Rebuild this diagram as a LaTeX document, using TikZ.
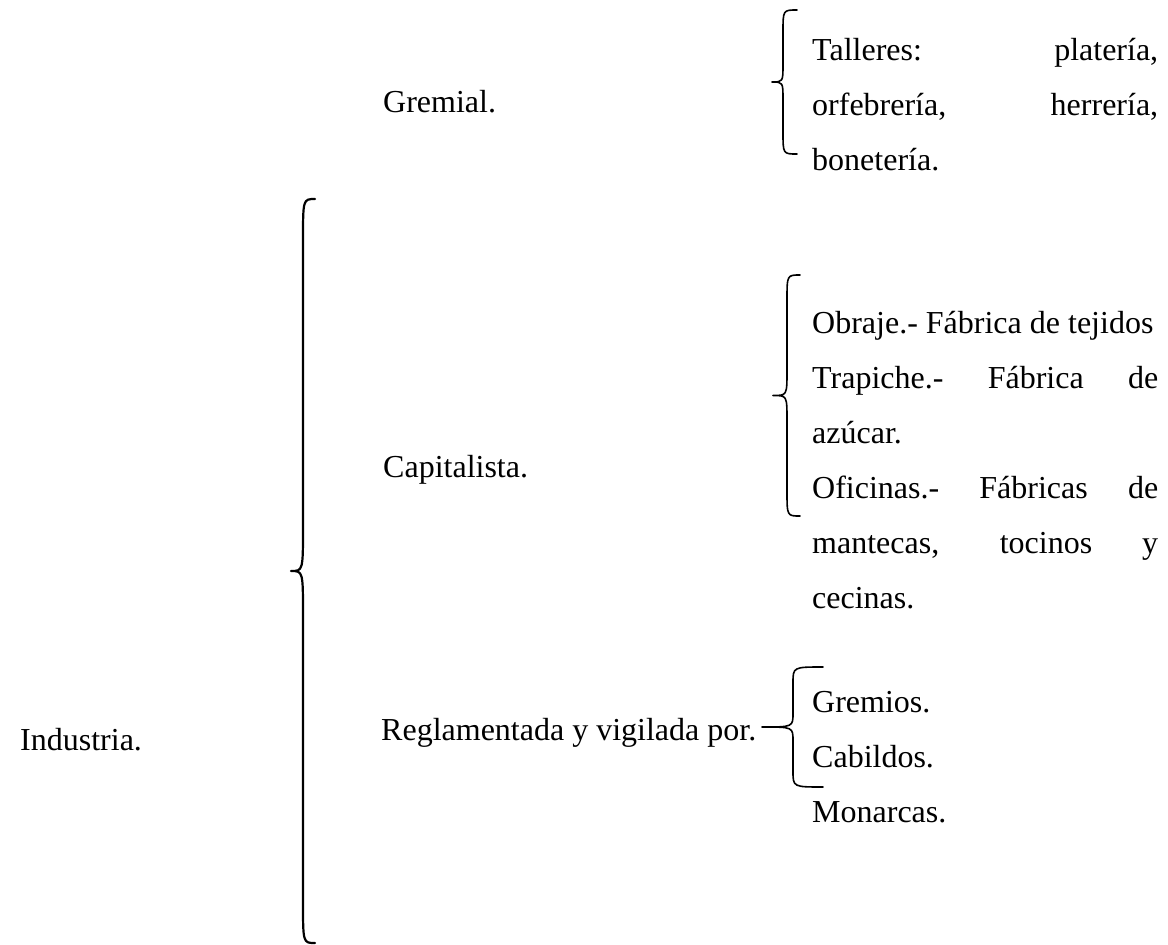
\documentclass[tikz,border=0pt]{standalone}
\usepackage{fontspec}
\setmainfont{LiberationSerif}[Extension=.ttf, UprightFont=*-Regular, BoldFont=*-Bold, ItalicFont=*-Italic]
\hbadness=10000
\hfuzz=20pt
\hyphenpenalty=10000
\exhyphenpenalty=10000
\begin{document}
\begin{tikzpicture}[x=1pt, y=-1pt]
\tikzstyle{every node} = [anchor=base west, inner sep=0pt, font=\fontsize{32}{55}\selectfont]
\tikzstyle{column} = [text width=346pt, align=justify]
\tikzstyle{curly} = [line cap=round, line join=round]
\useasboundingbox (0,0) rectangle (1168,945);
\node (industria) at (20, 750) {Industria.};
\node (gremial) at (383, 112) {Gremial.};
\node (capitalista) at (383, 477) {Capitalista.};
\node (reglamentada) at (381, 740) {Reglamentada y vigilada por.};
\node[column] (talleres) at (812, 60) {Talleres: platería,\linebreak orfebrería, herrería,\linebreak bonetería.};
\node[column] (fabricas) at (812, 333) {\mbox{Obraje.- Fábrica de tejidos}\newline Trapiche.- Fábrica de\linebreak azúcar.\newline Oficinas.- Fábricas de\linebreak mantecas, tocinos y\linebreak cecinas.};
\node[column] (vigilantes) at (812, 712) {Gremios.\newline Cabildos.\newline Monarcas.};
% llaves
\foreach \xv/\yt/\yb/\de/\dc/\re/\rc/\lw in {303/199/943/12/12/42/45/2.2, 783/10/154/14/11/22/18/1.6, 787/275/516/13/14/25/25/1.6, 793/667/787/30/31/16/14/1.6}
{
\pgfmathsetmacro\ym{(\yt+\yb)/2}
\draw[curly, line width=\lw pt] ({\xv+\de},\yt) .. controls (\xv,\yt) .. ({\xv},{\yt+\re}) -- ({\xv},{\ym-\rc}) .. controls (\xv,\ym) .. ({\xv-\dc},\ym) .. controls (\xv,\ym) .. ({\xv},{\ym+\rc}) -- ({\xv},{\yb-\re}) .. controls (\xv,\yb) .. ({\xv+\de},\yb);
}
\end{tikzpicture}
\end{document}
